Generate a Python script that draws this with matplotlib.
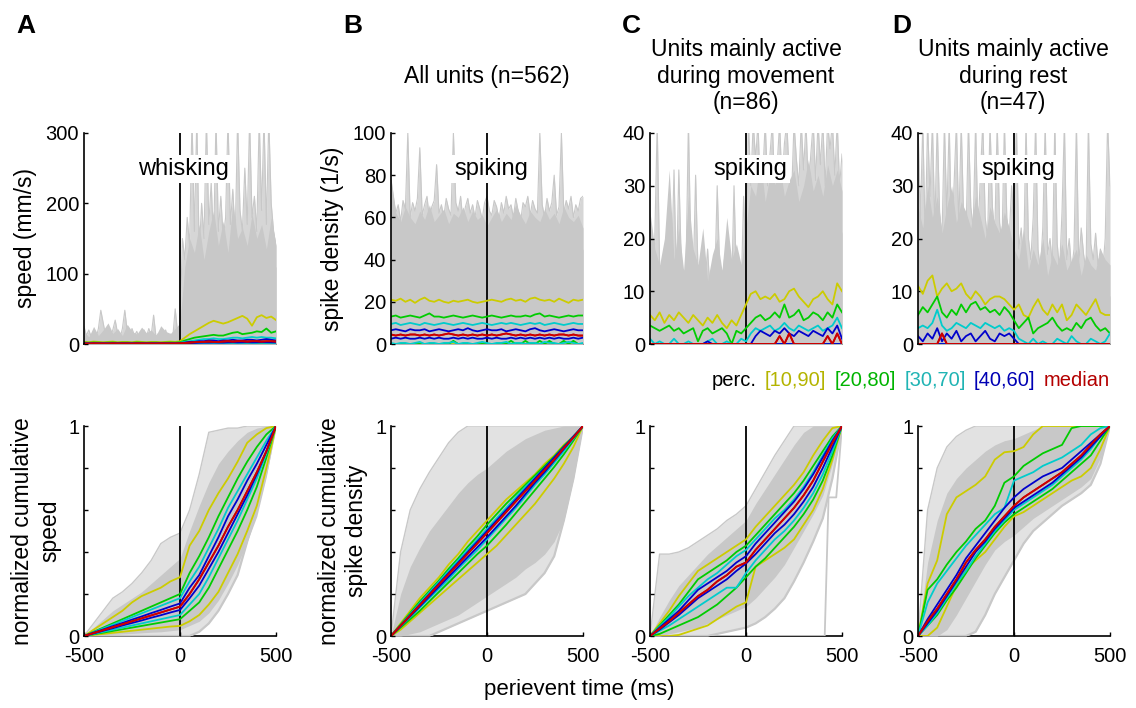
import numpy as np
import matplotlib.pyplot as plt
from matplotlib.offsetbox import TextArea, HPacker, AnchoredOffsetbox

plt.rcParams['font.family'] = ['Liberation Sans', 'DejaVu Sans']
plt.rcParams['axes.unicode_minus'] = False

# sample times (ms)
t_top = np.arange(-500, 501, 25)
t_peak = np.arange(-500, 501, 12.5)
t_cum = np.arange(-500, 501, 50)

# ---------------- top row: raw traces (gray) ----------------
a_dense = [12, 9, 14, 10, 13, 8, 12, 15, 9, 11, 14, 10, 12, 9, 13, 11, 8, 12, 10, 14, 16,
           60, 75, 85, 80, 95, 90, 100, 85, 95, 105, 90, 100, 95, 110, 100, 95, 105, 90, 100, 110]
a_mid = [18, 10, 25, 12, 20, 30, 15, 22, 12, 28, 18, 14, 24, 16, 20, 12, 26, 18, 15, 22, 30,
         110, 150, 130, 170, 120, 160, 190, 140, 175, 130, 200, 150, 165, 140, 185, 150, 170, 135, 180, 140]
a_peak = [25, 12, 20, 10, 18, 8, 22, 48, 30, 12, 25, 10, 20, 34, 15, 8, 22, 48, 18, 10,
          22, 12, 18, 8, 15, 20, 10, 22, 12, 41, 10, 15, 8, 12, 20, 8, 14, 10, 50, 15, 20,
          150, 120, 180, 140, 320, 160, 320, 130, 200, 150, 320, 170, 230, 140, 320, 160, 210, 150, 180, 320,
          170, 220, 150, 320, 190, 160, 250, 170, 320, 180, 210, 160, 320, 190, 320, 170, 320, 200, 160, 140]

b_dense = [48, 42, 45, 50, 44, 47, 41, 46, 49, 43, 45, 48, 42, 46, 44, 50, 43, 47, 45, 41,
           46, 48, 44, 47, 42, 49, 45, 43, 48, 46, 44, 50, 42, 47, 45, 43, 49, 44, 46, 42, 45]
b_mid = [75, 62, 58, 65, 60, 57, 63, 59, 66, 58, 61, 64, 57, 62, 60, 65, 58, 63, 59, 61,
         56, 60, 64, 58, 62, 59, 66, 61, 57, 63, 60, 58, 64, 59, 62, 57, 65, 60, 58, 61, 55]
b_peak = [78, 70, 62, 66, 58, 68, 64, 100, 60, 67, 63, 69, 93, 61, 66, 70, 59, 65, 68, 85,
          62, 66, 60, 69, 64, 61, 100, 67, 63, 70, 58, 65, 69, 62, 66, 60, 68, 64, 59, 67,
          70, 63, 61, 68, 65, 59, 67, 62, 70, 64, 66, 60, 69, 63, 58, 67, 65, 70, 61, 68,
          64, 62, 100, 66, 60, 69, 63, 67, 80, 61, 65, 100, 62, 68, 64, 70, 60, 66, 63, 69, 70]

c_dense = [10, 12, 9, 11, 8, 12, 10, 9, 11, 8, 10, 9, 7, 10, 8, 9, 10, 7, 9, 8, 11,
           20, 22, 18, 24, 21, 25, 19, 23, 22, 26, 20, 24, 22, 25, 21, 23, 26, 22, 24, 21]
c_mid = [25, 18, 15, 20, 33, 16, 22, 14, 28, 18, 15, 22, 12, 17, 20, 14, 24, 16, 19, 15, 22,
         30, 28, 35, 27, 32, 30, 34, 28, 31, 33, 27, 30, 35, 29, 32, 28, 34, 30, 33, 29]
c_peak = [18, 12, 20, 42, 15, 10, 18, 12, 16, 14, 33, 12, 33, 16, 10, 14, 42, 18, 12, 32,
          14, 10, 16, 12, 18, 10, 14, 12, 30, 15, 10, 16, 12, 14, 10, 30, 12, 16, 10, 28, 15,
          42, 30, 42, 35, 42, 28, 32, 42, 30, 36, 42, 28, 34, 42, 30, 38, 42, 32, 28, 42,
          35, 30, 42, 33, 42, 29, 36, 42, 31, 42, 34, 42, 30, 42, 37, 42, 32, 42, 30, 36]

d_dense = [20, 18, 22, 17, 19, 21, 18, 20, 16, 19, 18, 20, 17, 18, 16, 19, 17, 15, 18, 16, 14,
           12, 10, 11, 9, 12, 10, 8, 11, 10, 9, 12, 10, 9, 11, 10, 12, 9, 10, 11, 9]
d_mid = [26, 22, 30, 24, 28, 21, 26, 30, 23, 27, 25, 22, 28, 24, 20, 26, 23, 21, 25, 22, 18,
         16, 22, 14, 18, 15, 20, 13, 17, 15, 19, 14, 16, 18, 13, 17, 15, 14, 18, 16, 15]
d_peak = [42, 24, 42, 20, 42, 28, 42, 22, 42, 25, 20, 42, 24, 42, 19, 30, 42, 22, 42, 24,
          20, 42, 26, 22, 42, 21, 32, 42, 24, 20, 42, 26, 21, 42, 23, 19, 42, 24, 20, 30, 22,
          42, 18, 22, 15, 42, 20, 16, 24, 42, 18, 14, 22, 42, 17, 20, 15, 42, 19, 14, 25,
          42, 16, 20, 14, 18, 42, 15, 22, 17, 14, 42, 19, 16, 21, 15, 18, 14, 20, 42, 30]

# ---------------- top row: percentiles ----------------
a_p90 = [3, 2.5, 3.5, 3, 2.5, 3, 3.5, 2.5, 3, 3, 2.5, 3.5, 3, 2.5, 3, 3, 2.5, 3, 3.5, 3, 4,
         9, 14, 18, 22, 26, 30, 33, 31, 29, 31, 34, 37, 40, 36, 26, 38, 41, 37, 39, 34]
a_p80 = [2, 1.8, 2.2, 2, 1.8, 2, 2.2, 1.8, 2, 2, 1.8, 2.2, 2, 1.8, 2, 2, 1.8, 2, 2.2, 2, 2.5,
         5, 7, 9, 10, 11, 12, 13, 12, 12, 14, 16, 17, 14, 15, 16, 18, 17, 22, 16, 18]
a_p70 = [1.5, 1.3, 1.6, 1.4, 1.5, 1.3, 1.6, 1.4, 1.5, 1.5, 1.3, 1.6, 1.4, 1.5, 1.5, 1.3, 1.6, 1.4, 1.5, 1.5, 1.8,
         3, 4, 5, 6, 7, 7, 8, 7, 7, 8, 9, 9, 8, 9, 10, 9, 10, 9, 9, 8]
a_p60 = [1, 0.9, 1.1, 1, 1, 0.9, 1.1, 1, 1, 1, 0.9, 1.1, 1, 1, 1, 0.9, 1.1, 1, 1, 1, 1.2,
         2, 3, 3, 4, 4, 5, 5, 4, 5, 5, 6, 5, 5, 6, 6, 5, 6, 7, 6, 5]
a_p50 = [0.7, 0.6, 0.8, 0.7, 0.7, 0.6, 0.8, 0.7, 0.7, 0.7, 0.6, 0.8, 0.7, 0.7, 0.7, 0.6, 0.8, 0.7, 0.7, 0.7, 0.9,
         1.5, 2, 2.5, 3, 3, 3.5, 3, 3, 3.5, 4, 3.5, 4, 4, 3.5, 4, 4, 3.5, 4, 4, 3.5]
a_p40 = [0.5, 0.4, 0.5, 0.5, 0.4, 0.5, 0.5, 0.4, 0.5, 0.5, 0.4, 0.5, 0.5, 0.4, 0.5, 0.5, 0.4, 0.5, 0.5, 0.4, 0.6,
         1, 1.2, 1.5, 1.8, 2, 2, 2.2, 2, 2, 2.3, 2.5, 2.2, 2.4, 2.5, 2.3, 2.4, 2.6, 2.5, 2.4, 2.2]
a_p30 = [0.3, 0.2, 0.3, 0.3, 0.2, 0.3, 0.3, 0.2, 0.3, 0.3, 0.2, 0.3, 0.3, 0.2, 0.3, 0.3, 0.2, 0.3, 0.3, 0.2, 0.4,
         0.6, 0.7, 0.9, 1, 1.1, 1.2, 1.3, 1.2, 1.2, 1.3, 1.4, 1.3, 1.4, 1.4, 1.3, 1.4, 1.5, 1.4, 1.4, 1.3]
a_p20 = [0.1, 0.1, 0.1, 0.1, 0.1, 0.1, 0.1, 0.1, 0.1, 0.1, 0.1, 0.1, 0.1, 0.1, 0.1, 0.1, 0.1, 0.1, 0.1, 0.1, 0.2,
         0.3, 0.4, 0.4, 0.5, 0.5, 0.6, 0.6, 0.5, 0.6, 0.6, 0.7, 0.6, 0.6, 0.7, 0.6, 0.7, 0.7, 0.6, 0.7, 0.6]
a_p10 = [0] * 41

b_p90 = [21, 20.5, 21.5, 20, 21, 19.5, 21, 22, 20.5, 20, 21, 20, 19.5, 20.5, 20, 20.5, 21, 20, 19.5, 20,
         20.5, 21, 20.5, 20, 21, 21.5, 20.5, 21, 20, 21.5, 22, 21, 20.5, 21, 20, 21.5, 20.5, 19.5, 21, 20.5, 21]
b_p80 = [13, 13.5, 12.5, 13, 13.5, 13, 12.5, 13.5, 14.5, 13, 13, 12.5, 13, 13.5, 13, 12.5, 13, 13.5, 13, 12.5,
         13, 13.5, 13, 12.5, 13, 13.5, 13, 13, 13.5, 13, 14, 14.5, 13, 13.5, 13, 12.5, 13, 13.5, 13, 13.5, 13.5]
b_p70 = [9.5, 10, 9, 9.5, 10, 9.5, 9, 10, 9.5, 9, 9.5, 10, 9.5, 9, 9.5, 10, 9.5, 9, 9.5, 10,
         9.5, 9, 9.5, 10, 9.5, 10, 9.5, 9, 9.5, 10, 9.5, 10, 9, 9.5, 10, 9.5, 9, 9.5, 10, 9.5, 9.5]
b_p60 = [6.5, 7, 6.5, 6, 7, 6.5, 6.5, 7, 6, 6.5, 7, 6.5, 6, 6.5, 7, 6.5, 7.5, 6.5, 6, 6.5,
         7, 6.5, 6.5, 7, 6, 6.5, 7, 6.5, 6, 7, 7.5, 6.5, 6, 6.5, 7, 6.5, 6, 6.5, 7, 6.5, 6.5]
b_p50 = [4.5, 4, 4.5, 4, 4.5, 4.5, 4, 4.5, 4, 4.5, 4, 4.5, 5, 4.5, 4, 4.5, 4, 4.5, 4, 4.5,
         4, 4.5, 4, 4.5, 5, 4.5, 4, 4.5, 4, 4.5, 4, 4.5, 4, 4.5, 4, 4.5, 4.5, 4, 4.5, 4, 4]
b_p40 = [2.5, 3, 2.5, 3, 2.5, 2.5, 3, 2.5, 3, 2.5, 3, 2.5, 2.5, 3, 2.5, 3, 2.5, 3, 2.5, 2.5,
         3, 2.5, 3, 2.5, 2.5, 3, 2.5, 3, 2.5, 3, 2.5, 3, 2.5, 3, 2.5, 3, 2.5, 2.5, 3, 2.5, 3]
b_p30 = [0.5, 0, 0.5, 0.5, 0, 0.5, 1, 0, 0.5, 0.5, 0, 0.5, 0.5, 1, 0, 0.5, 0.5, 0, 0.5, 1,
         0.5, 0, 0.5, 0.5, 1, 0, 0.5, 0.5, 0, 0.5, 0.5, 0, 1, 0.5, 0.5, 0, 0.5, 1, 0.5, 0, 0.5]
b_p20 = [0, 0, 0, 0, 0, 0, 0, 0, 0, 0, 0, 0, 0, 1.5, 0, 0, 0, 0, 0, 0,
         0, 0, 0, 0, 0, 1.5, 0, 0, 1.5, 0, 0, 1.5, 0, 1.5, 0, 0, 1.5, 0, 1.5, 0, 0]
b_p10 = [0] * 41

c_p90 = [5.5, 4.5, 6, 4, 5.5, 4.5, 6, 5, 4, 5.5, 4.5, 3.5, 5, 4, 5.5, 4, 3, 4.5, 3.5, 5.5, 7.5,
         9.5, 10, 8.5, 9, 8.5, 9.5, 8, 8.5, 10, 10.5, 9, 8, 7, 8.5, 9, 10, 8.5, 7.5, 11.5, 10]
c_p80 = [3.5, 3, 2.5, 3, 3.5, 2.5, 3, 2, 2.5, 3, 0.5, 2.5, 3, 2, 2.5, 3, 2, 0, 2.5, 2, 3,
         4, 5, 5.5, 4.5, 5, 6, 5, 7.5, 5, 5.5, 6.5, 4.5, 5, 6, 5.5, 4.5, 6, 5, 7.5, 6]
c_p70 = [1, 0, 0.5, 0, 0, 1, 0, 0, 0.5, 0, 0, 0, 0.5, 1, 0, 0, 0.5, 0, 0, 1, 0.5,
         2, 3, 2.5, 3, 3.5, 2.5, 3, 4, 3, 2.5, 3.5, 3, 2.5, 3, 3.5, 2.5, 3, 3.5, 5, 3]
c_p60 = [0, 0, 0, 0, 0, 0, 0, 0, 0, 0, 0, 0, 0.5, 0, 0, 0, 0, 0, 0, 0, 0,
         0, 1.5, 2.5, 2, 1.5, 2.5, 2, 3, 2, 1.5, 2.5, 2, 1.5, 2.5, 2, 1.5, 3, 2, 3.5, 1]
c_p50 = [0, 0, 0, 0, 0, 0, 0, 0, 0, 0, 0, 0, 0, 0, 0, 0, 0, 0, 0, 0, 0,
         0, 0, 0, 0, 0, 0, 1.5, 0, 2, 0, 0, 0, 0, 0, 0, 0, 1.5, 0, 2, 0]
c_p40 = [0] * 41
c_p30 = [0] * 41
c_p20 = [0] * 41
c_p10 = [0] * 41

d_p90 = [11, 9.5, 12, 13, 9, 10.5, 11.5, 10, 10.5, 11.5, 9.5, 8.5, 10, 9, 7.5, 8.5, 9, 9, 8.5, 7.5, 6.5,
         7.5, 5.5, 5, 7, 8.5, 6.5, 5.5, 7.5, 6, 7.5, 4.5, 5.5, 7.5, 6.5, 5.5, 7, 8.5, 6, 5.5, 5.5]
d_p80 = [5.5, 7, 6, 7.5, 9, 6, 5, 6.5, 5.5, 7.5, 6, 7.5, 8, 6.5, 7, 6, 6.5, 5.5, 7, 6, 4.5,
         3, 4, 5, 2, 3, 3.5, 4, 5, 3.5, 2.5, 3, 2.5, 4, 3, 4.5, 5, 3.5, 2.5, 3, 2]
d_p70 = [3, 3.5, 3, 4, 6.5, 3.5, 2.5, 3, 4, 3.5, 3, 4, 3.5, 3, 4, 3.5, 3, 3.5, 2.5, 3, 2.5,
         1, 0.5, 0, 1, 0, 0.5, 0, 0, 1, 0.5, 0, 1.5, 0.5, 0, 0, 1, 0.5, 0, 0.5, 2]
d_p60 = [1.5, 0.5, 2, 1, 3, 0.5, 2, 1, 2.5, 0.5, 1.5, 2, 0.5, 1.5, 2.5, 1, 0.5, 2, 1.5, 2, 1,
         0, 0, 0, 0, 0, 0, 0, 0, 0, 0, 0, 0, 0, 0, 0, 0, 0, 0, 0, 0]
d_p50 = [0, 0, 0, 0, 0, 2, 0, 0, 0, 0, 0, 0, 0, 0, 0, 0, 0, 0, 0, 0, 0,
         0, 0, 0, 0, 0, 0, 0, 0, 0, 0, 0, 0, 0, 0, 0, 0, 0, 0, 0, 0]
d_p40 = [0] * 41
d_p30 = [0] * 41
d_p20 = [0] * 41
d_p10 = [0] * 41

# ---------------- bottom row: cumulative percentiles ----------------
a_c90 = [0, 0.03, 0.06, 0.09, 0.12, 0.16, 0.19, 0.21, 0.23, 0.26, 0.28, 0.43, 0.50, 0.60, 0.68, 0.75, 0.83, 0.92, 0.96, 0.99, 1]
a_c80 = [0, 0.02, 0.04, 0.06, 0.08, 0.10, 0.12, 0.14, 0.16, 0.18, 0.20, 0.30, 0.38, 0.47, 0.57, 0.66, 0.75, 0.83, 0.90, 0.96, 1]
a_c70 = [0, 0.018, 0.036, 0.054, 0.072, 0.09, 0.108, 0.126, 0.144, 0.162, 0.18, 0.26, 0.33, 0.42, 0.51, 0.61, 0.69, 0.77, 0.85, 0.93, 1]
a_c60 = [0, 0.016, 0.031, 0.047, 0.062, 0.078, 0.093, 0.109, 0.124, 0.14, 0.155, 0.23, 0.29, 0.38, 0.47, 0.57, 0.65, 0.74, 0.82, 0.91, 1]
a_c50 = [0, 0.014, 0.028, 0.042, 0.056, 0.07, 0.084, 0.098, 0.112, 0.126, 0.14, 0.20, 0.27, 0.35, 0.43, 0.52, 0.60, 0.69, 0.78, 0.88, 1]
a_c40 = [0, 0.012, 0.025, 0.037, 0.05, 0.062, 0.074, 0.087, 0.099, 0.112, 0.124, 0.18, 0.24, 0.32, 0.40, 0.49, 0.58, 0.67, 0.77, 0.88, 1]
a_c30 = [0, 0.01, 0.02, 0.03, 0.04, 0.05, 0.06, 0.07, 0.08, 0.09, 0.10, 0.15, 0.20, 0.28, 0.37, 0.46, 0.55, 0.65, 0.75, 0.87, 1]
a_c20 = [0, 0.008, 0.016, 0.024, 0.032, 0.04, 0.048, 0.056, 0.064, 0.072, 0.08, 0.12, 0.16, 0.23, 0.32, 0.41, 0.50, 0.60, 0.71, 0.85, 1]
a_c10 = [0, 0.005, 0.01, 0.015, 0.02, 0.025, 0.03, 0.035, 0.04, 0.045, 0.048, 0.07, 0.10, 0.15, 0.21, 0.30, 0.39, 0.50, 0.62, 0.80, 1]

b_c90 = [0, 0.06, 0.12, 0.18, 0.23, 0.28, 0.34, 0.39, 0.45, 0.50, 0.55, 0.60, 0.65, 0.69, 0.73, 0.77, 0.82, 0.86, 0.91, 0.95, 1]
b_c80 = [0, 0.055, 0.11, 0.165, 0.215, 0.265, 0.32, 0.37, 0.425, 0.475, 0.53, 0.58, 0.63, 0.675, 0.72, 0.765, 0.81, 0.855, 0.905, 0.95, 1]
b_c70 = [0, 0.052, 0.104, 0.156, 0.207, 0.258, 0.309, 0.36, 0.41, 0.46, 0.51, 0.56, 0.61, 0.66, 0.71, 0.755, 0.80, 0.85, 0.90, 0.95, 1]
b_c60 = [0, 0.05, 0.10, 0.15, 0.20, 0.25, 0.30, 0.35, 0.40, 0.45, 0.50, 0.55, 0.60, 0.65, 0.70, 0.75, 0.80, 0.85, 0.90, 0.95, 1]
b_c50 = [0, 0.049, 0.098, 0.147, 0.196, 0.245, 0.294, 0.343, 0.392, 0.441, 0.49, 0.54, 0.59, 0.64, 0.69, 0.74, 0.79, 0.84, 0.895, 0.945, 1]
b_c40 = [0, 0.047, 0.094, 0.141, 0.188, 0.235, 0.282, 0.329, 0.376, 0.423, 0.47, 0.52, 0.57, 0.62, 0.675, 0.73, 0.78, 0.835, 0.89, 0.945, 1]
b_c30 = [0, 0.045, 0.09, 0.135, 0.18, 0.225, 0.27, 0.32, 0.365, 0.41, 0.46, 0.51, 0.56, 0.61, 0.665, 0.72, 0.77, 0.825, 0.88, 0.94, 1]
b_c20 = [0, 0.04, 0.08, 0.12, 0.165, 0.21, 0.255, 0.30, 0.345, 0.39, 0.43, 0.48, 0.53, 0.585, 0.64, 0.695, 0.75, 0.805, 0.865, 0.93, 1]
b_c10 = [0, 0.03, 0.07, 0.11, 0.15, 0.19, 0.23, 0.27, 0.31, 0.35, 0.39, 0.43, 0.48, 0.53, 0.58, 0.63, 0.69, 0.75, 0.82, 0.90, 1]

c_c90 = [0, 0.06, 0.12, 0.19, 0.25, 0.31, 0.34, 0.37, 0.40, 0.43, 0.46, 0.52, 0.57, 0.62, 0.67, 0.72, 0.78, 0.86, 0.93, 0.99, 1]
c_c80 = [0, 0.05, 0.10, 0.15, 0.21, 0.27, 0.30, 0.33, 0.36, 0.40, 0.43, 0.48, 0.53, 0.58, 0.63, 0.68, 0.74, 0.81, 0.88, 0.95, 1]
c_c70 = [0, 0.045, 0.09, 0.14, 0.19, 0.23, 0.27, 0.30, 0.34, 0.38, 0.41, 0.46, 0.51, 0.56, 0.60, 0.65, 0.71, 0.78, 0.86, 0.94, 1]
c_c60 = [0, 0.04, 0.08, 0.12, 0.17, 0.22, 0.25, 0.28, 0.31, 0.35, 0.38, 0.44, 0.49, 0.54, 0.59, 0.64, 0.70, 0.77, 0.85, 0.93, 1]
c_c50 = [0, 0.035, 0.07, 0.11, 0.15, 0.19, 0.22, 0.26, 0.29, 0.33, 0.35, 0.41, 0.46, 0.51, 0.56, 0.61, 0.67, 0.74, 0.83, 0.92, 1]
c_c40 = [0, 0.03, 0.065, 0.10, 0.14, 0.18, 0.21, 0.24, 0.27, 0.31, 0.345, 0.39, 0.44, 0.49, 0.53, 0.58, 0.64, 0.71, 0.80, 0.90, 1]
c_c30 = [0, 0.025, 0.05, 0.08, 0.11, 0.14, 0.17, 0.20, 0.23, 0.23, 0.30, 0.36, 0.41, 0.46, 0.50, 0.55, 0.61, 0.68, 0.77, 0.88, 1]
c_c20 = [0, 0.01, 0.03, 0.05, 0.07, 0.09, 0.12, 0.15, 0.19, 0.23, 0.28, 0.33, 0.37, 0.42, 0.47, 0.52, 0.58, 0.65, 0.74, 0.86, 1]
c_c10 = [0, 0, 0, 0.005, 0.02, 0.035, 0.05, 0.08, 0.11, 0.14, 0.16, 0.33, 0.36, 0.39, 0.42, 0.46, 0.53, 0.60, 0.70, 0.84, 1]

d_c90 = [0, 0.25, 0.36, 0.58, 0.66, 0.69, 0.72, 0.76, 0.84, 0.875, 0.88, 0.90, 0.96, 1, 1, 1, 1, 1, 1, 1, 1]
d_c80 = [0, 0.22, 0.27, 0.34, 0.40, 0.45, 0.51, 0.55, 0.62, 0.73, 0.76, 0.81, 0.84, 0.87, 0.89, 0.91, 0.99, 1, 1, 1, 1]
d_c70 = [0, 0.16, 0.25, 0.31, 0.37, 0.43, 0.48, 0.53, 0.58, 0.61, 0.74, 0.76, 0.78, 0.81, 0.83, 0.85, 0.88, 0.91, 0.96, 0.99, 1]
d_c60 = [0, 0.08, 0.15, 0.22, 0.29, 0.37, 0.43, 0.49, 0.55, 0.61, 0.66, 0.70, 0.73, 0.76, 0.78, 0.80, 0.84, 0.88, 0.92, 0.96, 1]
d_c50 = [0, 0.07, 0.13, 0.20, 0.27, 0.35, 0.41, 0.46, 0.52, 0.57, 0.62, 0.66, 0.69, 0.72, 0.75, 0.78, 0.82, 0.86, 0.91, 0.96, 1]
d_c40 = [0, 0.06, 0.12, 0.19, 0.26, 0.33, 0.40, 0.45, 0.51, 0.56, 0.61, 0.64, 0.67, 0.70, 0.73, 0.77, 0.81, 0.85, 0.90, 0.95, 1]
d_c30 = [0, 0.05, 0.11, 0.18, 0.25, 0.31, 0.38, 0.44, 0.50, 0.55, 0.60, 0.63, 0.66, 0.69, 0.72, 0.76, 0.80, 0.84, 0.89, 0.95, 1]
d_c20 = [0, 0.05, 0.10, 0.17, 0.23, 0.30, 0.37, 0.43, 0.49, 0.54, 0.58, 0.61, 0.64, 0.67, 0.70, 0.74, 0.78, 0.82, 0.86, 0.93, 1]
d_c10 = [0, 0, 0.04, 0.14, 0.24, 0.32, 0.36, 0.40, 0.46, 0.52, 0.57, 0.59, 0.62, 0.65, 0.68, 0.71, 0.74, 0.76, 0.80, 0.89, 1]

# gray spread of single units (outer = sparse, inner = dense)
a_hi = [0, 0.06, 0.12, 0.18, 0.21, 0.25, 0.30, 0.36, 0.44, 0.47, 0.49, 0.60, 0.77, 0.97, 0.98, 0.99, 0.99, 1, 1, 1, 1]
a_lo = [0, 0, 0, 0, 0, 0, 0, 0, 0, 0, 0, 0, 0.02, 0.06, 0.12, 0.20, 0.29, 0.45, 0.60, 0.78, 1]
a_hi_in = [0, 0.04, 0.08, 0.12, 0.15, 0.18, 0.21, 0.25, 0.29, 0.33, 0.37, 0.50, 0.62, 0.73, 0.82, 0.88, 0.93, 0.97, 0.99, 1, 1]
a_lo_in = [0, 0.002, 0.005, 0.008, 0.01, 0.012, 0.015, 0.018, 0.02, 0.025, 0.03, 0.05, 0.07, 0.11, 0.17, 0.25, 0.34, 0.45, 0.57, 0.76, 1]

b_hi = [0, 0.40, 0.60, 0.70, 0.78, 0.85, 0.92, 0.97, 1, 1, 1, 1, 1, 1, 1, 1, 1, 1, 1, 1, 1]
b_lo = [0, 0, 0, 0, 0, 0.02, 0.04, 0.06, 0.08, 0.10, 0.12, 0.14, 0.16, 0.18, 0.20, 0.25, 0.30, 0.38, 0.55, 0.75, 1]
b_hi_in = [0, 0.20, 0.33, 0.42, 0.50, 0.56, 0.62, 0.68, 0.73, 0.77, 0.80, 0.84, 0.88, 0.91, 0.94, 0.96, 0.98, 0.99, 1, 1, 1]
b_lo_in = [0, 0, 0.01, 0.02, 0.04, 0.06, 0.08, 0.10, 0.13, 0.16, 0.19, 0.22, 0.25, 0.28, 0.32, 0.35, 0.39, 0.45, 0.55, 0.75, 1]

c_hi = [0, 0.39, 0.39, 0.40, 0.42, 0.45, 0.48, 0.51, 0.55, 0.58, 0.62, 0.70, 0.78, 0.86, 0.93, 1, 1, 1, 1, 1, 1]
c_lo = [0, 0, 0, 0, 0, 0, 0, 0.01, 0.02, 0.03, 0.04, 0.06, 0.09, 0.13, 0.18, 0.26, 0.35, 0.45, 0.56, 0.75, 1]
c_hi_in = [0, 0.09, 0.17, 0.24, 0.29, 0.34, 0.39, 0.43, 0.47, 0.51, 0.55, 0.63, 0.70, 0.77, 0.84, 0.91, 0.97, 1, 1, 1, 1]
c_lo_in = [0, 0, 0.01, 0.02, 0.03, 0.04, 0.06, 0.08, 0.10, 0.12, 0.14, 0.18, 0.23, 0.28, 0.34, 0.42, 0.50, 0.58, 0.67, 0.82, 1]
# one late unit in C stays at zero until ~410 ms
c_late_t = [-500, 410, 430, 470, 500]
c_late_y = [0, 0, 0.66, 0.66, 1]

d_hi = [0, 0.60, 0.80, 0.90, 0.95, 0.98, 1, 1, 1, 1, 1, 1, 1, 1, 1, 1, 1, 1, 1, 1, 1]
d_lo = [0, 0, 0, 0, 0, 0, 0.02, 0.10, 0.20, 0.28, 0.36, 0.44, 0.50, 0.54, 0.58, 0.62, 0.65, 0.68, 0.72, 0.82, 1]
d_hi_in = [0, 0.35, 0.55, 0.68, 0.75, 0.80, 0.84, 0.88, 0.91, 0.93, 0.94, 0.96, 0.98, 1, 1, 1, 1, 1, 1, 1, 1]
d_lo_in = [0, 0, 0, 0.03, 0.10, 0.18, 0.26, 0.34, 0.41, 0.45, 0.48, 0.52, 0.56, 0.59, 0.62, 0.65, 0.68, 0.71, 0.75, 0.85, 1]

legend_labels = ['perc.', '[10,90]', '[20,80]', '[30,70]', '[40,60]', 'median']
legend_colors = ['black', '#b4b400', '#00b400', '#20b4b4', '#0000b4', '#b40000']

gray = '#c8c8c8'
light = '#e2e2e2'
# outer pair -> inner (median drawn last)
pct_colors = ['#cccc00', '#00cc00', '#00cccc', '#0000cc', '#cc0000']

W, H = 1136, 708
fig = plt.figure(figsize=(W / 100, H / 100), dpi=100)
lefts = [84, 391, 650, 918]
aw = 192 / W


def style(ax):
    ax.spines['top'].set_visible(False)
    ax.spines['right'].set_visible(False)
    ax.spines['bottom'].set_zorder(0.5)
    ax.spines['left'].set_zorder(4)
    ax.spines['left'].set_linewidth(1.2)
    ax.spines['bottom'].set_linewidth(1.2)
    ax.tick_params(direction='in', length=3, labelsize=14.5, width=1)
    ax.tick_params(axis='x', pad=8)
    ax.set_facecolor('none')


def draw_pcts(ax, t, pcts):
    p10, p20, p30, p40, p50, p60, p70, p80, p90 = pcts
    pairs = [(p10, p90), (p20, p80), (p30, p70), (p40, p60), (p50, p50)]
    for (lo, hi), c in zip(pairs, pct_colors):
        ax.plot(t, lo, color=c, lw=1.3, zorder=3)
        ax.plot(t, hi, color=c, lw=1.3, zorder=3)


def draw_top(ax, dense, mid, peak, pcts, ymax, yticks, word):
    ax.fill_between(t_peak, 0, peak, color='#d6d6d6', lw=0, zorder=1)
    ax.plot(t_peak, peak, color=gray, lw=0.8, zorder=1)
    ax.fill_between(t_top, 0, mid, color=gray, lw=0, zorder=1.1)
    ax.fill_between(t_top, 0, dense, color=gray, lw=0, zorder=1.1)
    ax.axvline(0, color='black', lw=1.3, zorder=2)
    draw_pcts(ax, t_top, pcts)
    ax.set_xlim(-500, 500)
    ax.set_ylim(0, ymax)
    ax.set_xticks([])
    ax.set_yticks(yticks)
    style(ax)
    ax.text(0.52, 0.83, word, transform=ax.transAxes, ha='center', va='center',
            fontsize=17, zorder=6,
            bbox=dict(facecolor='white', edgecolor='none', pad=2))


def draw_bottom(ax, hi, lo, hi_in, lo_in, pcts):
    ax.fill_between(t_cum, lo, hi, color=light, lw=0, zorder=1)
    ax.fill_between(t_cum, lo_in, hi_in, color=gray, lw=0, zorder=1)
    ax.plot(t_cum, lo, color=gray, lw=1.6, zorder=1.2)
    ax.plot(t_cum, hi, color=gray, lw=1, zorder=1.2)
    ax.axvline(0, color='black', lw=1.3, zorder=2)
    draw_pcts(ax, t_cum, pcts)
    ax.set_xlim(-500, 500)
    ax.set_ylim(0, 1)
    ax.set_xticks([-500, 0, 500])
    ax.set_yticks([0, 0.2, 0.4, 0.6, 0.8, 1])
    ax.set_yticklabels(['0', '', '', '', '', '1'])
    style(ax)


top_axes = [fig.add_axes([l / W, 1 - 344 / H, aw, 211 / H]) for l in lefts]
bot_axes = [fig.add_axes([l / W, 1 - 636 / H, aw, 210 / H]) for l in lefts]

draw_top(top_axes[0], a_dense, a_mid, a_peak,
         [a_p10, a_p20, a_p30, a_p40, a_p50, a_p60, a_p70, a_p80, a_p90], 300, [0, 100, 200, 300], 'whisking')
draw_top(top_axes[1], b_dense, b_mid, b_peak,
         [b_p10, b_p20, b_p30, b_p40, b_p50, b_p60, b_p70, b_p80, b_p90], 100, [0, 20, 40, 60, 80, 100], 'spiking')
draw_top(top_axes[2], c_dense, c_mid, c_peak,
         [c_p10, c_p20, c_p30, c_p40, c_p50, c_p60, c_p70, c_p80, c_p90], 40, [0, 10, 20, 30, 40], 'spiking')
draw_top(top_axes[3], d_dense, d_mid, d_peak,
         [d_p10, d_p20, d_p30, d_p40, d_p50, d_p60, d_p70, d_p80, d_p90], 40, [0, 10, 20, 30, 40], 'spiking')

draw_bottom(bot_axes[0], a_hi, a_lo, a_hi_in, a_lo_in,
            [a_c10, a_c20, a_c30, a_c40, a_c50, a_c60, a_c70, a_c80, a_c90])
draw_bottom(bot_axes[1], b_hi, b_lo, b_hi_in, b_lo_in,
            [b_c10, b_c20, b_c30, b_c40, b_c50, b_c60, b_c70, b_c80, b_c90])
draw_bottom(bot_axes[2], c_hi, c_lo, c_hi_in, c_lo_in,
            [c_c10, c_c20, c_c30, c_c40, c_c50, c_c60, c_c70, c_c80, c_c90])
bot_axes[2].plot(c_late_t, c_late_y, color=gray, lw=1.3, zorder=1.2)
draw_bottom(bot_axes[3], d_hi, d_lo, d_hi_in, d_lo_in,
            [d_c10, d_c20, d_c30, d_c40, d_c50, d_c60, d_c70, d_c80, d_c90])

top_axes[0].set_ylabel('speed (mm/s)', fontsize=16.5, labelpad=6)
top_axes[1].set_ylabel('spike density (1/s)', fontsize=16.5, labelpad=6)
bot_axes[0].set_ylabel('normalized cumulative\nspeed', fontsize=16.5, labelpad=5)
bot_axes[1].set_ylabel('normalized cumulative\nspike density', fontsize=16.5, labelpad=5)

# panel letters and titles
for x, letter in zip([16, 343, 622, 892], 'ABCD'):
    fig.text(x / W, 1 - 26 / H, letter, fontsize=19, fontweight='bold', ha='left', va='center')
fig.text(487 / W, 1 - 76 / H, 'All units (n=562)', fontsize=16.5, ha='center', va='center')
fig.text(746 / W, 1 - 76 / H, 'Units mainly active\nduring movement\n(n=86)', fontsize=16.5,
         ha='center', va='center', linespacing=1.2)
fig.text(1013 / W, 1 - 76 / H, 'Units mainly active\nduring rest\n(n=47)', fontsize=16.5,
         ha='center', va='center', linespacing=1.2)

fig.text(0.51, 1 - 690 / H, 'perievent time (ms)', fontsize=16, ha='center', va='center')

# colour key
parts = [TextArea(s, textprops=dict(color=c, fontsize=14.5)) for s, c in zip(legend_labels, legend_colors)]
key = HPacker(children=parts, align='baseline', pad=0, sep=6)
anchored = AnchoredOffsetbox(loc='center right', child=key, pad=0, borderpad=0, frameon=False,
                             bbox_to_anchor=(1110 / W, 1 - 380 / H), bbox_transform=fig.transFigure)
fig.add_artist(anchored)

fig.savefig('out.png', dpi=100)
